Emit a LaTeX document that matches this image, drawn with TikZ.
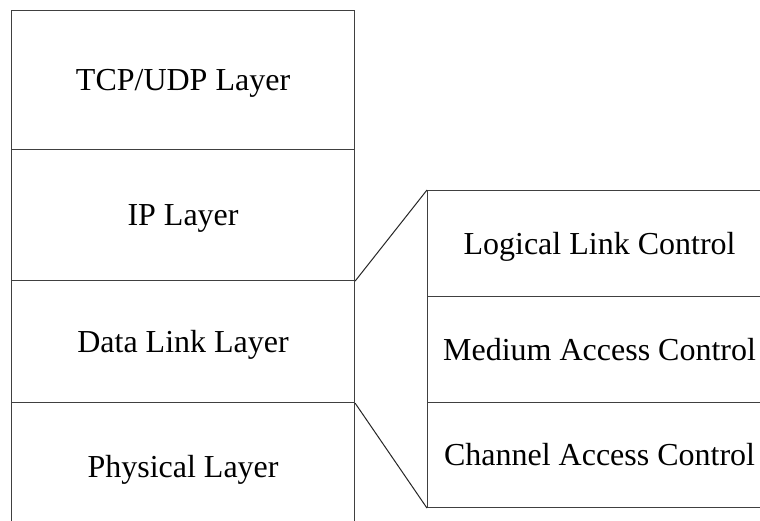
\documentclass[tikz,border=0pt]{standalone}
\usepackage{fontspec}
\setmainfont{Liberation Serif}
\begin{document}
\begin{tikzpicture}[x=1pt,y=-1pt,
  layer/.style={draw=black!75, line width=1.1pt, rectangle, inner sep=0pt,
    text height=21pt, text depth=0pt,
    anchor=north west, font=\fontsize{32}{38}\selectfont},
  linkline/.style={draw=black!85, line width=1pt}]
  \clip (0,0) rectangle (760,521);
  \fill[white] (0,0) rectangle (760,521);
  % protocol stack on the left
  \node[layer, minimum width=343pt, minimum height=139pt] (tcp) at (11,10) {TCP/UDP Layer};
  \node[layer, minimum width=343pt, minimum height=131pt] (ip) at (11,149) {IP Layer};
  \node[layer, minimum width=343pt, minimum height=122pt] (dl) at (11,280) {Data Link Layer};
  \node[layer, minimum width=343pt, minimum height=128pt] (phy) at (11,402) {Physical Layer};
  % expanded data link sublayers on the right
  \node[layer, minimum width=344pt, minimum height=106pt] (llc) at (427,190) {Logical Link Control};
  \node[layer, minimum width=344pt, minimum height=106pt] (mac) at (427,296) {Medium Access Control};
  \node[layer, minimum width=344pt, minimum height=105pt] (cac) at (427,402) {Channel Access Control};
  % fan-out from the data link layer
  \draw[linkline] (ip.south east) -- (llc.north west);
  \draw[linkline] (dl.south east) -- (cac.south west);
\end{tikzpicture}
\end{document}
